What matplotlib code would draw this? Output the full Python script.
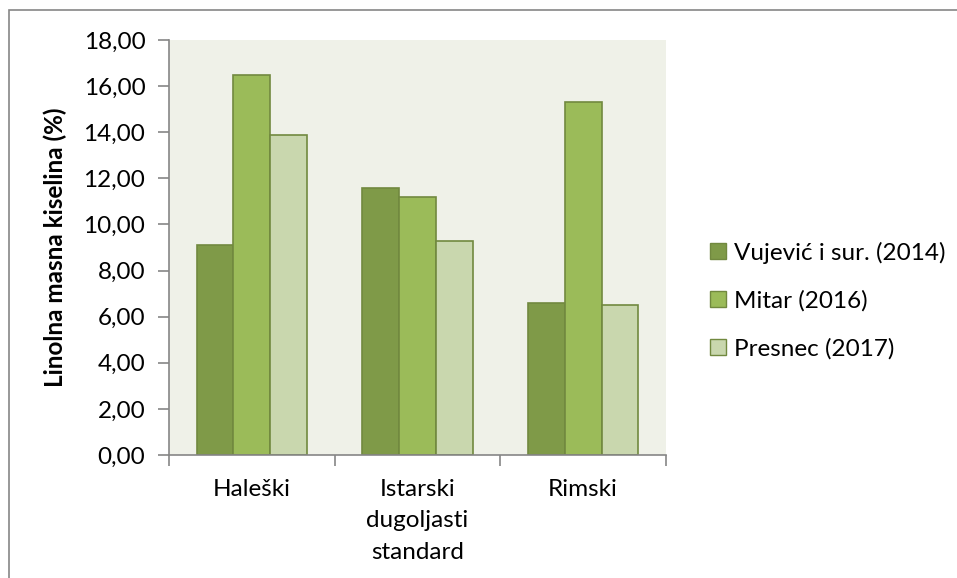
import matplotlib.pyplot as plt
import matplotlib.patches as mpatches
import numpy as np

# Linolna masna kiselina po sortama i izvorima
sorte = ['Haleški', 'Istarski\ndugoljasti\nstandard', 'Rimski']
serije = ['Vujević i sur. (2014)', 'Mitar (2016)', 'Presnec (2017)']
vujevic = [9.1, 11.6, 6.6]
mitar = [16.5, 11.2, 15.3]
presnec = [13.9, 9.3, 6.5]

boje = ['#7F9A48', '#9BBB59', '#C9D7AE']
rub = '#71893F'

plt.rcParams['font.family'] = ['Lato', 'DejaVu Sans']

fig = plt.figure(figsize=(9.57, 5.78), dpi=100)
W, H = 957, 578
ax = fig.add_axes([169 / W, 1 - 455 / H, (666 - 169) / W, (455 - 40) / H])
ax.set_facecolor('#EFF1E8')

x = np.arange(len(sorte))
sirina = 1 / 4.5
for i, (vrijednosti, boja) in enumerate(zip([vujevic, mitar, presnec], boje)):
    ax.bar(x + (i - 1) * sirina, vrijednosti, width=sirina, color=boja,
           edgecolor=rub, linewidth=1.2, label=serije[i], zorder=2)

ax.set_xlim(-0.5, 2.5)
ax.set_ylim(0, 18)
ax.set_yticks(np.arange(0, 18.01, 2))
ax.set_yticklabels([f'{v:.2f}'.replace('.', ',') for v in np.arange(0, 18.01, 2)])
ax.set_xticks([-0.5, 0.5, 1.5, 2.5], minor=False)
ax.set_xticklabels([])
ax.set_xticks(x, minor=True)
ax.set_xticklabels(sorte, minor=True, fontsize=17.5, linespacing=1.62, va='top')
ax.tick_params(axis='x', which='minor', length=0, pad=17)
ax.tick_params(axis='x', which='major', length=8, color='#868686', width=1.2)
ax.tick_params(axis='y', length=8, color='#868686', width=1.2, labelsize=17.5, pad=9)

for s in ['top', 'right']:
    ax.spines[s].set_visible(False)
for s in ['left', 'bottom']:
    ax.spines[s].set_color('#868686')
    ax.spines[s].set_linewidth(1.2)

ax.set_ylabel('Linolna masna kiselina (%)', fontsize=17.5, fontweight='bold', labelpad=12)

rucke = [mpatches.Patch(facecolor=b, edgecolor=rub, label=s) for b, s in zip(boje, serije)]
fig.legend(handles=rucke, loc='upper left', bbox_to_anchor=(700 / W, 1 - 232 / H),
           frameon=False, fontsize=17.5, handlelength=0.65, handleheight=0.65,
           handletextpad=0.35, labelspacing=1.08, borderaxespad=0)

# okvir grafikona
fig.add_artist(mpatches.Rectangle((9 / W, -0.1), 1.1, 1 - 10 / H + 0.1,
                                  transform=fig.transFigure, fill=False,
                                  edgecolor='#868686', linewidth=1.2))

fig.savefig('out.png', dpi=100)
